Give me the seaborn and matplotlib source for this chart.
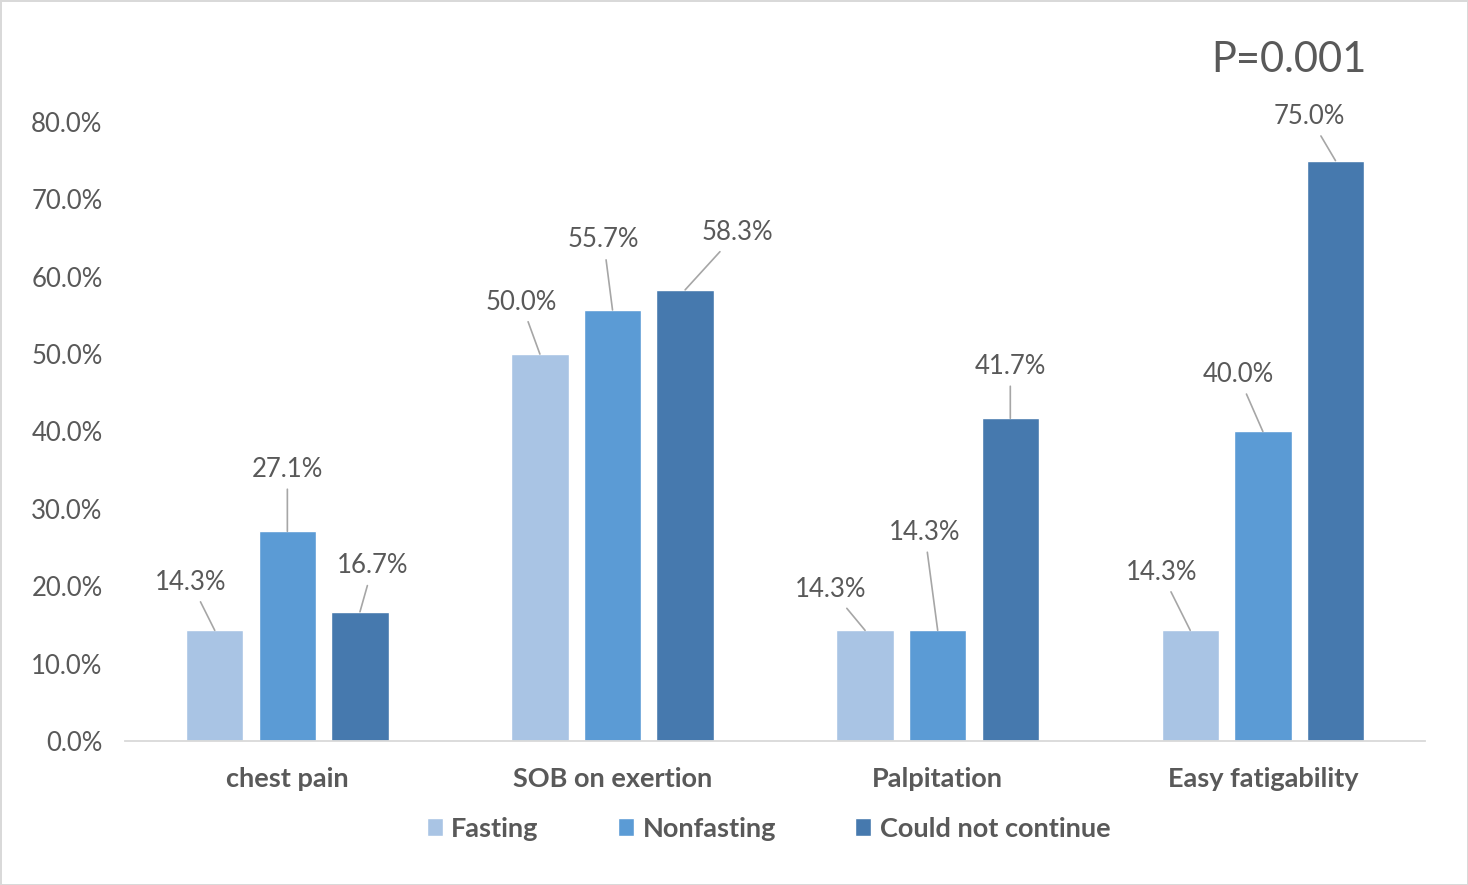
import pandas as pd
import matplotlib.pyplot as plt
import seaborn as sns

symptoms = ["chest pain", "SOB on exertion", "Palpitation", "Easy fatigability"]
groups = ["Fasting", "Nonfasting", "Could not continue"]
fasting = [14.3, 50.0, 14.3, 14.3]
nonfasting = [27.1, 55.7, 14.3, 40.0]
could_not = [16.7, 58.3, 41.7, 75.0]
colors = ["#A9C4E4", "#5B9BD5", "#4679AE"]
p_text = "P=0.001"

# label offsets (pixels) from the top of each bar
label_offsets = {
    "Fasting": [(-24, 48), (-19, 52), (-34, 41), (-29, 58)],
    "Nonfasting": [(0, 62), (-9, 70), (-13, 98), (-25, 57)],
    "Could not continue": [(13, 46), (52, 57), (0, 52), (-26, 44)],
}

df = pd.DataFrame({
    "symptom": symptoms * 3,
    "group": [g for g in groups for _ in symptoms],
    "pct": fasting + nonfasting + could_not,
})

sns.set_theme(style="white")
plt.rcParams["font.family"] = ["Lato", "DejaVu Sans"]
text_color = "#595959"

fig = plt.figure(figsize=(14.68, 8.85), dpi=100)
ax = fig.add_axes([0.085, 0.1627, 0.886, 0.787])

sns.barplot(
    data=df,
    x="symptom",
    y="pct",
    hue="group",
    order=symptoms,
    hue_order=groups,
    palette=colors,
    width=0.67,
    gap=0.21,
    saturation=1,
    ax=ax,
)

for cont, g in zip(ax.containers, groups):
    for bar, (dx, dy) in zip(cont, label_offsets[g]):
        x = bar.get_x() + bar.get_width() / 2
        y = bar.get_height()
        ax.annotate(
            f"{y:.1f}%",
            xy=(x, y),
            xytext=(dx, dy),
            textcoords="offset pixels",
            ha="center",
            va="center",
            fontsize=18.5,
            color=text_color,
            arrowprops=dict(arrowstyle="-", color="#A6A6A6", lw=1.2, shrinkA=3, shrinkB=0),
        )

ax.set(xlim=(-0.5, 3.5), ylim=(0, 90), xlabel="", ylabel="")
ax.set_yticks(range(0, 81, 10))
ax.set_yticklabels([f"{v:.1f}%" for v in range(0, 81, 10)])
ax.tick_params(axis="y", labelsize=18.5, labelcolor=text_color, length=0, pad=16)
ax.tick_params(axis="x", labelsize=19.5, labelcolor=text_color, length=0, pad=19)
for lab in ax.get_xticklabels():
    lab.set_fontweight("bold")

sns.despine(ax=ax, left=True)
ax.spines["bottom"].set_color("#D9D9D9")
ax.spines["bottom"].set_linewidth(1.3)

ax.text(0.955, 0.978, p_text, transform=ax.transAxes, ha="right", va="center",
        fontsize=30, color=text_color)

leg = ax.legend(
    loc="upper center",
    bbox_to_anchor=(0.495, -0.0735),
    ncol=3,
    frameon=False,
    fontsize=19.5,
    handlelength=0.6,
    handleheight=0.6,
    handletextpad=0.3,
    columnspacing=2.93,
)
for t in leg.get_texts():
    t.set_color(text_color)
    t.set_fontweight("bold")

fig.patch.set_edgecolor("#D9D9D9")
fig.patch.set_linewidth(2)

fig.savefig("out.png", dpi=100, edgecolor=fig.get_edgecolor())
